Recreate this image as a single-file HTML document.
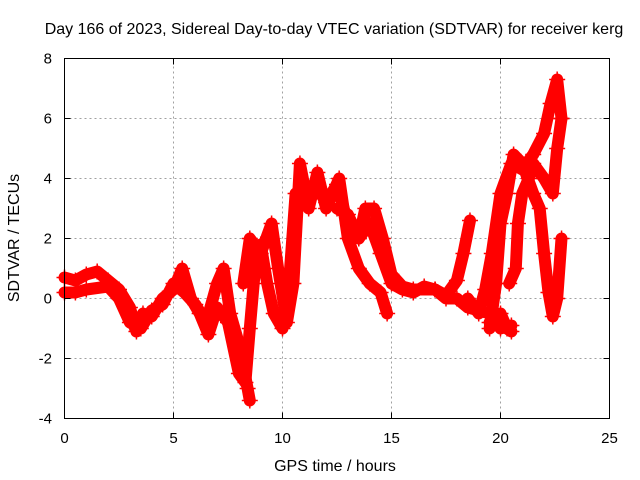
<!DOCTYPE html>
<html><head><meta charset="utf-8"><style>
body{margin:0;background:#fff;}
svg{display:block;font-family:"Liberation Sans",sans-serif;}
</style></head><body>
<svg id="chart" width="640" height="480" xmlns="http://www.w3.org/2000/svg">
<text x="334" y="34" font-size="16" text-anchor="middle">Day 166 of 2023, Sidereal Day-to-day VTEC variation (SDTVAR) for receiver kerg</text>
<g id="grid"></g>
<g id="marks"></g>
<rect x="64.5" y="58.5" width="545" height="360" fill="none" stroke="#000" stroke-width="1"/>
<g id="ticks"></g>
<text x="335" y="471" font-size="16" text-anchor="middle">GPS time / hours</text>
<text transform="translate(19,238) rotate(-90)" font-size="16" text-anchor="middle">SDTVAR / TECUs</text>
</svg>
<script>
const xTicks=[0,5,10,15,20,25];
const yTicks=[-4,-2,0,2,4,6,8];
const trace1=[[0,0.7],[0.5,0.6],[1,0.8],[1.5,0.9],[2,0.6],[2.5,0.3],[3,-0.3],[3.3,-1.1],[3.6,-0.5],[4,-0.6],[4.5,0.0],[5,0.3],[5.4,1.0],[5.8,0.0],[6.2,-0.5],[6.6,-1.2],[7,-0.3],[7.5,-0.8],[8,-2.5],[8.3,-2.8],[8.5,-1],[8.8,1.5],[9,1.8],[9.3,0.5],[9.6,-0.5],[10,-1.0],[10.3,0.5],[10.6,3.5],[11,3.5],[11.5,3.8],[12,3.2],[12.5,3.8],[13,2.5],[13.5,2.0],[14,2.5],[14.5,1.5],[15,0.5],[15.5,0.3],[16,0.2],[16.5,0.4],[17,0.3],[17.5,0.0],[18,0.0],[18.5,-0.3],[19,-0.4],[19.5,-0.5],[20,-1.0],[20.5,-0.9]];
const trace2=[[0,0.2],[0.5,0.2],[1,0.3],[2,0.4],[2.5,0.0],[3,-0.8],[3.5,-1.0],[4,-0.4],[4.5,-0.2],[5,0.5],[5.5,0.2],[6,-0.2],[6.5,-0.8],[7,0.5],[7.3,1.0],[7.6,-0.5],[8,-1.5],[8.4,-3.0],[8.5,-3.4]];
const trace3=[[8.2,0.5],[8.5,2],[9,1.5],[9.5,2.5],[9.8,1.0],[10.2,-0.8],[10.5,0.5],[10.8,4.5],[11.2,3.0],[11.6,4.2],[12,3.0],[12.6,4.0],[13,2.0],[13.5,1.0],[14,0.5],[14.5,0.2],[14.8,-0.5]];
const trace4=[[12.5,3.0],[13,2.8],[13.5,2.0],[13.8,3.0],[14.2,3.0],[14.6,2.0],[15,0.8],[15.5,0.4],[16,0.3],[17,0.3]];
const trace5=[[17,0.3],[17.5,0.1],[18,0.6],[18.3,1.5],[18.6,2.6]];
const trace6=[[18.5,0],[19,-0.5],[19.3,0.3],[19.6,1.5],[20,3.5],[20.5,4.5],[21,4.3],[21.5,4.8],[22,5.5],[22.3,6.5],[22.6,7.3],[22.8,6.0]];
const trace7=[[19.5,-1.0],[19.8,0.5],[20,2.5],[20.3,3.5],[20.6,4.8],[21,4.5],[21.5,3.5],[21.8,3.0],[22,1.5],[22.2,0.2],[22.4,-0.6],[22.6,0.0],[22.8,2.0]];
const trace8=[[20.4,0.5],[20.7,1.0],[20.8,2.5],[21,3.5],[21.3,4.0],[21.5,4.5],[22,4.0],[22.4,3.5],[22.6,5.0],[22.8,6.0]];
const trace9=[[19.5,-0.8],[20,-0.5],[20.3,-1.0],[20.5,-1.1]];
const traces=[trace1,trace2,trace3,trace4,trace5,trace6,trace7,trace8,trace9];
const X0=64.5,X1=609.5,Y0=418.5,Y1=58.5;
const xs=h=>X0+(h-0)/25*(X1-X0);
const ys=v=>Y0-(v+4)/12*(Y0-Y1);
const NS="http://www.w3.org/2000/svg";
const grid=document.getElementById('grid'),ticks=document.getElementById('ticks'),marks=document.getElementById('marks');
function mk(tag,attrs,parent){const e=document.createElementNS(NS,tag);for(const k in attrs)e.setAttribute(k,attrs[k]);parent.appendChild(e);return e;}
xTicks.forEach(t=>{const x=xs(t);
 if(t>0&&t<25){const g=mk('line',{x1:x,x2:x,y1:Y0,y2:Y1,stroke:'#a0a0a0','stroke-dasharray':'2,3'},grid);}
 const l=mk('line',{x1:x,x2:x,y1:Y0,y2:Y0-6,stroke:'#000'},ticks);
 const l2=mk('line',{x1:x,x2:x,y1:Y1,y2:Y1+6,stroke:'#000'},ticks);
 const tx=mk('text',{x:x,y:443,'font-size':15,'text-anchor':'middle'},ticks);tx.textContent=t;});
yTicks.forEach(t=>{const y=ys(t);
 if(t>-4&&t<8){const g=mk('line',{x1:X0,x2:X1,y1:y,y2:y,stroke:'#a0a0a0','stroke-dasharray':'2,3'},grid);}
 const l=mk('line',{x1:X0,x2:X0+6,y1:y,y2:y,stroke:'#000'},ticks);
 const l2=mk('line',{x1:X1,x2:X1-6,y1:y,y2:y,stroke:'#000'},ticks);
 const tx=mk('text',{x:52,y:y+5,'font-size':15,'text-anchor':'end'},ticks);tx.textContent=t;});
traces.forEach((tr,i)=>{
 const pts=tr.map(p=>xs(p[0]).toFixed(1)+','+ys(p[1]).toFixed(1)).join(' ');
 const pl=mk('polyline',{points:pts,fill:'none',stroke:'#ff0000','stroke-width':12,'stroke-linejoin':'round','stroke-linecap':'round'},marks);
 
 
 tr.forEach(p=>{const x=xs(p[0]),y=ys(p[1]);
  const m=mk('path',{d:`M${x-8},${y}h16M${x},${y-8}v16`,stroke:'#ff0000','stroke-width':1.5},marks);
  
  });
});
</script>
</body></html>
